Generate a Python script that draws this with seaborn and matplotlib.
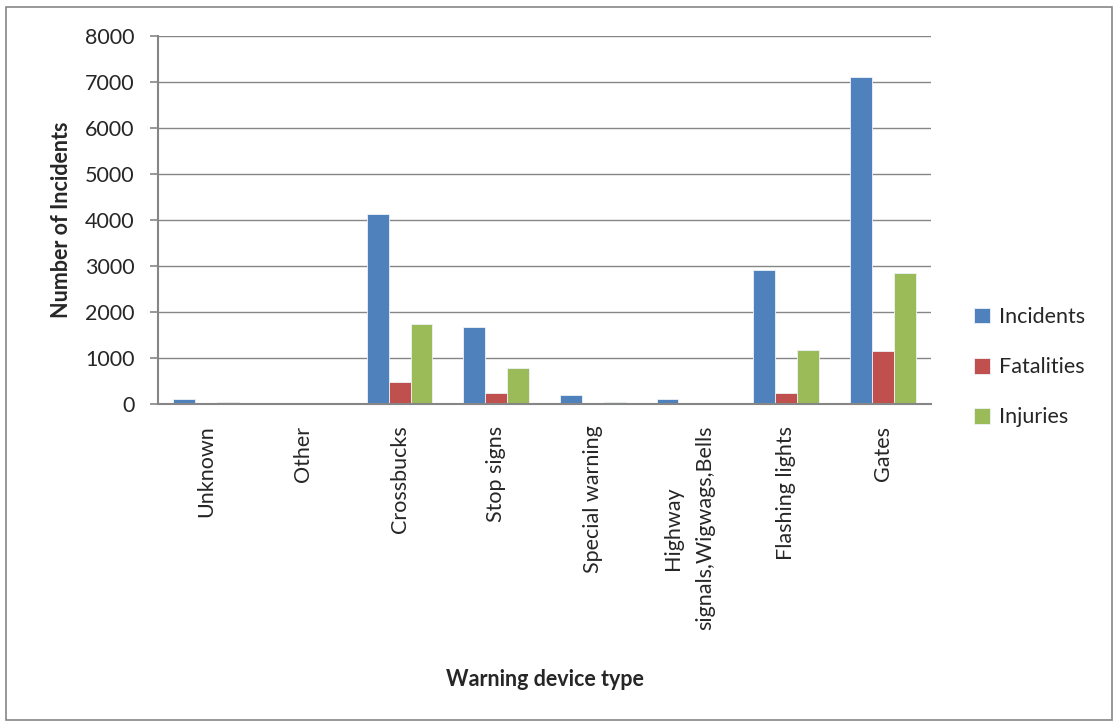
import matplotlib
matplotlib.use("Agg")
import matplotlib.pyplot as plt
from matplotlib.patches import Rectangle
import seaborn as sns
import pandas as pd

categories = ["Unknown", "Other", "Crossbucks", "Stop signs", "Special warning",
              "Highway\nsignals,Wigwags,Bells", "Flashing lights", "Gates"]
incidents = [110, 0, 4130, 1670, 200, 110, 2920, 7100]
fatalities = [5, 0, 470, 240, 10, 5, 240, 1160]
injuries = [40, 0, 1730, 790, 40, 10, 1170, 2840]
series = ["Incidents", "Fatalities", "Injuries"]
colors = ["#4F81BD", "#C0504D", "#9BBB59"]

rows = []
for name, vals in zip(series, [incidents, fatalities, injuries]):
    for cat, v in zip(categories, vals):
        rows.append({"device": cat, "series": name, "count": v})
df = pd.DataFrame(rows)

sns.set_style("white")
plt.rcParams["font.family"] = ["Lato", "DejaVu Sans"]

fig = plt.figure(figsize=(11.18, 7.26), dpi=100)
ax = fig.add_axes([158 / 1118, 1 - 404 / 726, 773 / 1118, 368 / 726])

sns.barplot(data=df, x="device", y="count", hue="series", order=categories,
            hue_order=series, palette=colors, saturation=1, width=0.68, ax=ax,
            edgecolor="#EEF2F8", linewidth=0.6, errorbar=None)

ax.set_ylim(0, 8000)
ax.set_yticks(range(0, 8001, 1000))
ax.yaxis.grid(True, color="#868686", linewidth=1.0)
ax.set_axisbelow(True)
for side in ["top", "right"]:
    ax.spines[side].set_visible(False)
for side in ["left", "bottom"]:
    ax.spines[side].set_color("#868686")
    ax.spines[side].set_linewidth(1.5)

ax.tick_params(axis="y", which="both", left=True, length=6, width=1.2,
               color="#868686", labelsize=15.5, pad=11)
ax.tick_params(axis="x", bottom=False, labelsize=15.5, pad=12)
ax.set_xticks(range(len(categories)))
ax.set_xticklabels(categories, rotation=90, ha="center", va="top",
                   multialignment="center")
for lbl in ax.get_xticklabels():
    lbl.set_linespacing(1.75)

ax.set_ylabel("Number of Incidents", fontsize=15.5, fontweight="bold")
ax.yaxis.set_label_coords(-0.111, 0.5)
ax.set_xlabel("Warning device type", fontsize=15.5, fontweight="bold")
ax.xaxis.set_label_coords(0.5, -0.72)

leg = ax.legend(loc="center left", bbox_to_anchor=(1.03, 0.10), frameon=False,
                fontsize=15.5, handlelength=0.75, handleheight=0.75,
                handletextpad=0.45, labelspacing=1.4)

fig.patches.append(Rectangle((6 / 1118, 6 / 726), 1106 / 1118, 713 / 726,
                             transform=fig.transFigure, fill=False,
                             edgecolor="#868686", linewidth=1.2))

fig.savefig("out.png", dpi=100)
